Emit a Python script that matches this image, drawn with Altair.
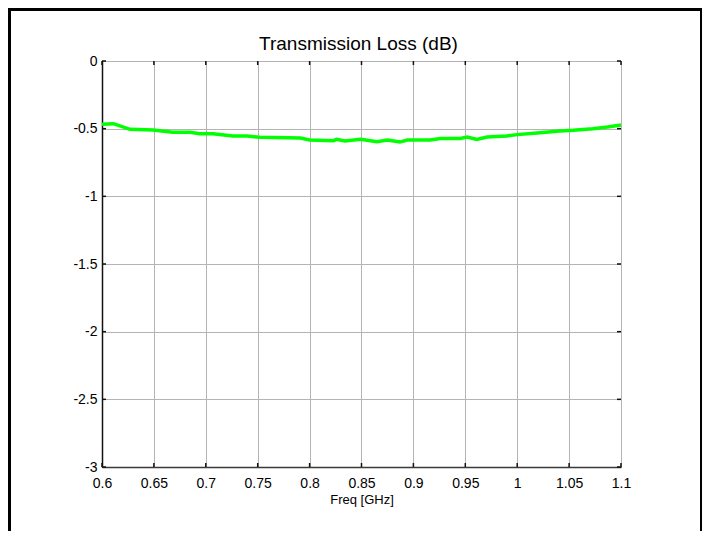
import altair as alt
import pandas as pd

# Data
freq = [0.6, 0.611, 0.627, 0.649, 0.668, 0.685, 0.694, 0.707, 0.726, 0.74, 0.752,
        0.791, 0.8, 0.823, 0.826, 0.834, 0.849, 0.865, 0.875, 0.887, 0.894, 0.916,
        0.926, 0.945, 0.952, 0.961, 0.971, 0.99, 1.0, 1.022, 1.041, 1.054, 1.073,
        1.087, 1.1]
loss = [-0.468, -0.463, -0.505, -0.51, -0.527, -0.527, -0.537, -0.537, -0.554,
        -0.554, -0.564, -0.569, -0.584, -0.589, -0.579, -0.591, -0.579, -0.596,
        -0.584, -0.599, -0.584, -0.584, -0.572, -0.572, -0.562, -0.579, -0.562,
        -0.554, -0.544, -0.53, -0.517, -0.512, -0.5, -0.488, -0.473]
x_ticks = [0.6, 0.65, 0.7, 0.75, 0.8, 0.85, 0.9, 0.95, 1.0, 1.05, 1.1]
y_ticks = [-3, -2.5, -2, -1.5, -1, -0.5, 0]
title_text = ["Transmission Loss (dB)"]

W, H = 519, 406
FONT = "Liberation Sans"

df = pd.DataFrame({"f": freq, "v": loss})
xt = pd.DataFrame({"f": x_ticks})
yt = pd.DataFrame({"v": y_ticks})
one = pd.DataFrame({"k": [0]})
tdf = pd.DataFrame({"t": title_text})

xscale = alt.Scale(domain=[0.6, 1.1], nice=False, zero=False)
yscale = alt.Scale(domain=[-3, 0], nice=False, zero=False)

x_axis = alt.Axis(values=x_ticks, labelExpr="'' + datum.value",
                  grid=True, gridColor="#b4b4b4", gridWidth=1,
                  ticks=False, domainColor="#3a3a3a", domainWidth=1.5,
                  labelFont=FONT, labelFontSize=14, labelColor="#000",
                  labelPadding=9, labelFlush=False, labelOverlap=False,
                  titleFont=FONT, titleFontSize=13, titleFontWeight="normal",
                  titleColor="#000", titlePadding=3)
y_axis = alt.Axis(values=y_ticks, labelExpr="'' + datum.value",
                  grid=True, gridColor="#b4b4b4", gridWidth=1,
                  ticks=False, domainColor="#111", domainWidth=1.5,
                  labelFont=FONT, labelFontSize=14, labelColor="#000",
                  labelPadding=5, labelFlush=False, labelOverlap=False)

X = lambda: alt.X("f:Q", scale=xscale, title="Freq [GHz]", axis=x_axis)
Y = lambda: alt.Y("v:Q", scale=yscale, title=None, axis=y_axis)

line = alt.Chart(df).mark_line(color="#00ff00", strokeWidth=3.5).encode(x=X(), y=Y())

tick_col = "#111"
top_ticks = alt.Chart(xt).mark_rule(color=tick_col, strokeWidth=1.5).encode(
    x=X(), y=alt.value(0), y2=alt.value(4))
bot_ticks = alt.Chart(xt).mark_rule(color=tick_col, strokeWidth=1.5).encode(
    x=X(), y=alt.value(H - 4), y2=alt.value(H))
left_ticks = alt.Chart(yt).mark_rule(color=tick_col, strokeWidth=1.5).encode(
    y=Y(), x=alt.value(0), x2=alt.value(4))
right_ticks = alt.Chart(yt).mark_rule(color=tick_col, strokeWidth=1.5).encode(
    y=Y(), x=alt.value(W - 4), x2=alt.value(W))

title = alt.Chart(tdf).mark_text(font=FONT, fontSize=19, color="#000",
                                 align="center", baseline="alphabetic").encode(
    text="t:N", x=alt.value(W / 2 - 3), y=alt.value(-11))

# outer figure frame (decoration)
frame_left = alt.Chart(one).mark_rule(color="#000", strokeWidth=3).encode(
    x=alt.value(-92.5), y=alt.value(-60), y2=alt.value(H + 80))
frame_top = alt.Chart(one).mark_rule(color="#000", strokeWidth=3).encode(
    x=alt.value(-100), x2=alt.value(W + 90), y=alt.value(-51.5))
frame_right = alt.Chart(one).mark_rule(color="#000", strokeWidth=3).encode(
    x=alt.value(W + 80.5), y=alt.value(-60), y2=alt.value(H + 80))

chart = alt.layer(
    line, top_ticks, bot_ticks, left_ticks, right_ticks, title,
    frame_left, frame_top, frame_right
).properties(
    width=W, height=H,
    autosize=alt.AutoSizeParams(type="none"),
    padding={"left": 94, "top": 53, "right": 81, "bottom": 64},
).configure_view(stroke=None).configure(background="white")

chart.save("out.html", embed_options={"renderer": "svg", "actions": False})
